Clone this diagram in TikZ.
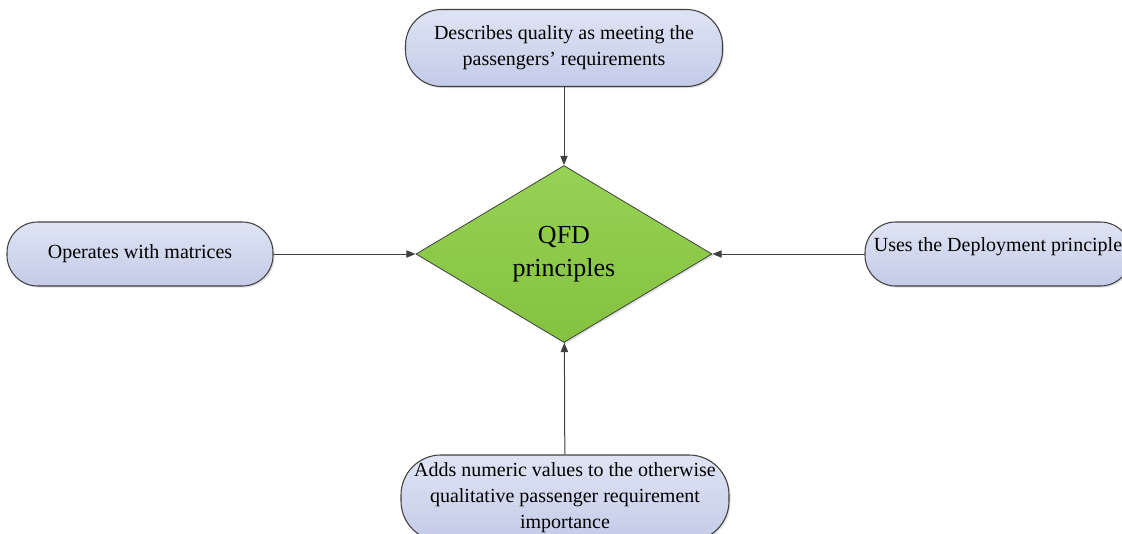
\documentclass[tikz,border=0pt]{standalone}
\usepackage{fontspec}
\setmainfont{Liberation Serif}
\usetikzlibrary{shapes.geometric,shadows,arrows.meta}
\definecolor{edgegray}{HTML}{404040}
\definecolor{bluetop}{HTML}{DFE4F4}
\definecolor{bluebot}{HTML}{C3CBE8}
\definecolor{greentop}{HTML}{96D254}
\definecolor{greenbot}{HTML}{84C240}
\tikzset{
  pill/.style={draw=edgegray, line width=0.8pt, rounded corners=#1,
    top color=bluetop, bottom color=bluebot, inner sep=2pt,
    font=\fontsize{15pt}{19.5pt}\selectfont, align=center,
    drop shadow={opacity=0.25, shadow xshift=1.2pt, shadow yshift=-1.2pt}},
  decision/.style={diamond, draw=edgegray, line width=0.6pt,
    top color=greentop, bottom color=greenbot, inner sep=0pt,
    font=\fontsize{19.5pt}{25pt}\selectfont, align=center,
    drop shadow={opacity=0.25, shadow xshift=1.2pt, shadow yshift=-1.2pt}},
  link/.style={draw=edgegray, line width=0.75pt, -{Triangle[length=7pt,width=5.5pt]}}
}
\begin{document}
\begin{tikzpicture}[x=0.75pt, y=-0.75pt]
\useasboundingbox (0,0) rectangle (1122,533);
\node[pill=27pt, minimum width=237.75pt, minimum height=57.75pt] (top) at (564,48)
  {Describes quality as meeting the\\passengers’ requirements};
\node[pill=23pt, minimum width=199.5pt, minimum height=48pt] (left) at (140,254)
  {Operates with matrices};
\node[pill=23pt, minimum width=199.5pt, minimum height=48pt, text depth=14pt] (right) at (998,254)
  {Uses the Deployment principle};
\node[decision, minimum width=222pt, minimum height=132.75pt] (qfd) at (564,254)
  {QFD\\principles};
\node[pill=30pt, minimum width=246pt, minimum height=64.5pt] (bottom) at (565,498)
  {Adds numeric values to the otherwise\\qualitative passenger requirement\\importance};
\draw[link] (top) -- (qfd);
\draw[link] (left) -- (qfd);
\draw[link] (right) -- (qfd);
\draw[link] (bottom) -- (qfd);
\end{tikzpicture}
\end{document}
